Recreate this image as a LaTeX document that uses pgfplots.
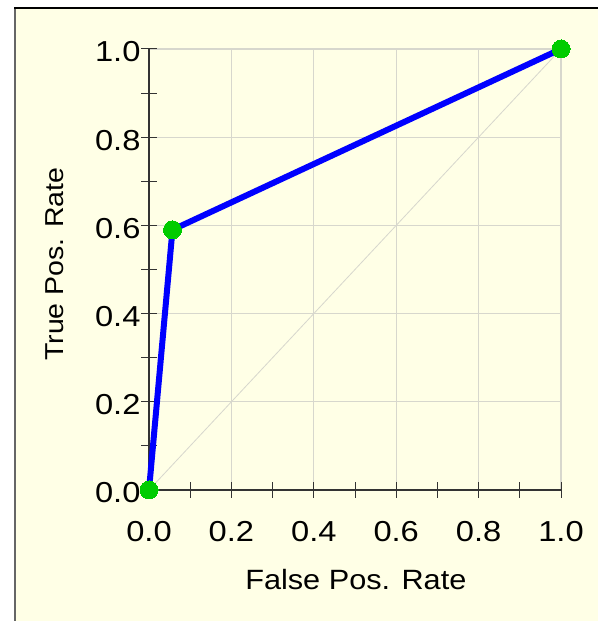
\documentclass[border=0pt]{standalone}
\usepackage{pgfplots}
\pgfplotsset{compat=1.18}
\usepackage{fontspec}
\setmainfont[FakeStretch=1.1]{Liberation Sans}
\newfontfamily\tickfont[FakeStretch=1.13]{Liberation Sans}
\definecolor{bgyellow}{RGB}{255,255,230}
\definecolor{gridgray}{RGB}{215,215,205}
\definecolor{mkgreen}{RGB}{0,204,0}
\begin{document}
\begin{tikzpicture}[x=1bp,y=1bp]
\useasboundingbox (0,0) rectangle (598,621);
\fill[bgyellow] (15,0) rectangle (598,613);
\draw[black!60,line width=2bp] (15,0) -- (15,613);
\draw[black,line width=2bp] (14,613) -- (598,613);
\begin{axis}[
  at={(149bp,131bp)}, anchor=origin,
  scale only axis, width=412bp, height=441bp,
  xmin=0, xmax=1, ymin=0, ymax=1,
  clip=false,
  axis lines*=left,
  axis line style={black!80, line width=1.2bp},
  xtick={0,0.2,0.4,0.6,0.8,1.0},
  ytick={0,0.2,0.4,0.6,0.8,1.0},
  minor xtick={0.1,0.3,0.5,0.7,0.9},
  minor ytick={0.1,0.3,0.5,0.7,0.9},
  xticklabels={0.0,0.2,0.4,0.6,0.8,1.0},
  yticklabels={0.0,0.2,0.4,0.6,0.8,1.0},
  tick align=center,
  major tick length=16bp, minor tick length=16bp,
  every tick/.style={black!80, line width=1bp},
  grid=major,
  major grid style={gridgray, line width=1.3bp},
  tick label style={font=\tickfont\fontsize{29}{29}\selectfont},
  xticklabel style={anchor=north, yshift=-20bp},
  yticklabel style={anchor=east, xshift=3bp, yshift=-3bp},
  xlabel={False Pos. Rate},
  ylabel={True Pos. Rate},
  every axis x label/.style={at={(axis description cs:0.502,-0.204)}, anchor=center, font=\fontsize{28}{28}\selectfont},
  every axis y label/.style={at={(axis description cs:-0.228,0.512)}, anchor=center, rotate=90, font=\fontsize{26}{26}\selectfont},
]
\addplot[gridgray, line width=0.8bp] coordinates {(0,0) (1,1)};
\addplot[blue, line width=6bp, mark=*, mark size=9bp, mark options={fill=mkgreen, draw=mkgreen, line width=0bp}]
  coordinates {(0,0) (0.057,0.59) (1,1)};
\end{axis}
\end{tikzpicture}
\end{document}
